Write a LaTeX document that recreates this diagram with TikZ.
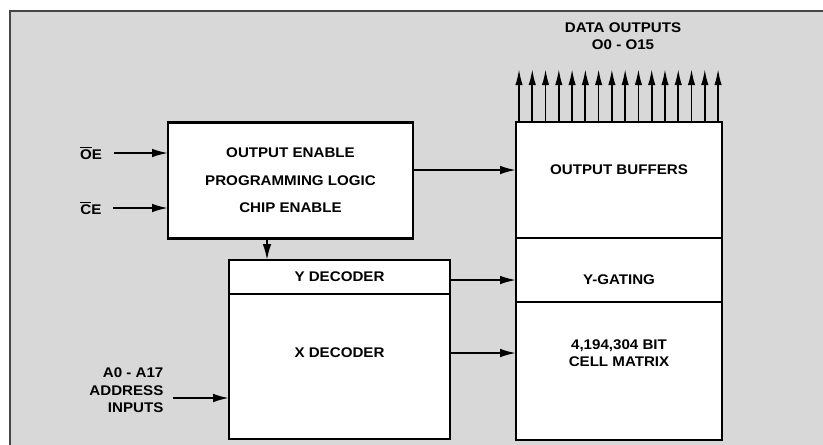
\documentclass[tikz,border=0pt]{standalone}
\usepackage{fontspec}
\setmainfont{Liberation Sans}[FakeStretch=1.08]
\usetikzlibrary{arrows.meta,calc}
\definecolor{bgc}{RGB}{216,216,216}
\definecolor{framec}{RGB}{70,70,70}
\begin{document}
\begin{tikzpicture}[x=0.75pt,y=-0.75pt,
  blk/.style 2 args={draw=black, fill=white, line width=2.1pt, minimum width=#1*0.75pt, minimum height=#2*0.75pt, inner sep=0pt, outer sep=0pt},
  lbl/.style={font=\fontsize{10.5}{12.75}\selectfont\bfseries, align=center, inner sep=1pt},
  arr/.style={line width=1.4pt, -{Latex[length=12pt,width=6.5pt]}},
  darr/.style={line width=1.3pt, -{Latex[length=12pt,width=5.5pt]}},
]
\useasboundingbox (0,0) rectangle (823,444);
\fill[bgc] (10,11) rectangle (830,450);
\draw[framec, line width=0.9pt] (10,450) -- (10,11) -- (830,11);

% blocks
\node[blk={245}{116}, lbl, font=\fontsize{10.5}{20.6}\selectfont\bfseries] (ctrl) at (290.5,180.5)
  {OUTPUT ENABLE\\PROGRAMMING LOGIC\\CHIP ENABLE};
\node[blk={221}{34}, lbl] (ydec) at (339.5,277) {Y DECODER};
\node[blk={221}{145}] (xdec) at (339.5,366.5) {};
\node[lbl] (xdeclbl) at (339.5,353) {X DECODER};

\node[blk={206}{116}] (ob) at (619,180) {};
\node[blk={206}{64}] (yg) at (619,270) {};
\node[blk={206}{138}] (cm) at (619,371) {};
\node[lbl] (oblbl) at (619,170) {OUTPUT BUFFERS};
\node[lbl] (yglbl) at (619,280) {Y-GATING};
\node[lbl] (cmlbl) at (619,353.5) {4,194,304 BIT\\CELL MATRIX};

% labels
\node[lbl] (dout) at (623,36.5) {DATA OUTPUTS\\O0 - O15};
\node[lbl] (oe) at (91,153) {$\overline{\mbox{O}}$E};
\node[lbl] (ce) at (91,208) {$\overline{\mbox{C}}$E};
\node[lbl, anchor=east, align=right, font=\fontsize{10.5}{13}\selectfont\bfseries] (addr) at (165,390.5) {A0 - A17\\ADDRESS\\INPUTS};
\coordinate (ain) at (173,398);

% connectors
\draw[arr] ([xshift=7.5pt]oe.east) -- (oe -| ctrl.west);
\draw[arr] ([xshift=7.5pt]ce.east) -- (ce -| ctrl.west);
\draw[arr] (ctrl.east |- oblbl) -- (ob.west |- oblbl);
\draw[arr] ($(ctrl.south west)+(99,0)$) -- ($(ydec.north west)+(38,0)$);
\draw[arr] (ydec.east |- yglbl) -- (yg.west |- yglbl);
\draw[arr] (xdec.east |- xdeclbl) -- (cm.west |- xdeclbl);
\draw[arr] (ain) -- (ain -| xdec.west);
\foreach \i in {0,...,15}
  \draw[darr] ($(ob.north west)+({3+13.27*\i},0)$) -- ++(0,-53);
\end{tikzpicture}
\end{document}
